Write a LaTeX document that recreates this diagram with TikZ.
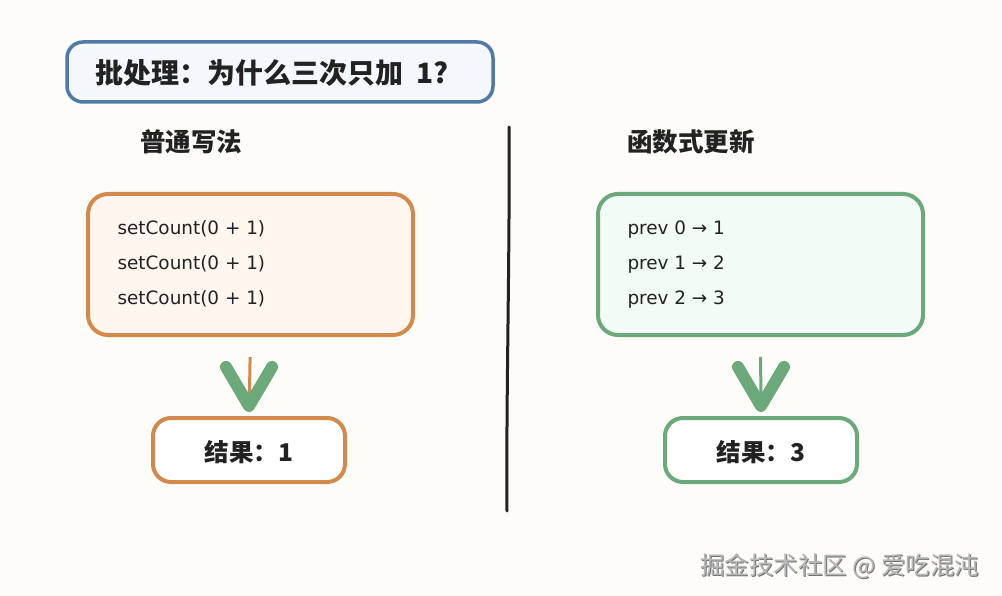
\documentclass[tikz,border=0pt]{standalone}
\usepackage{fontspec}
\setmainfont{DejaVu Sans}
\newfontfamily\cjk{Noto Sans CJK SC}
\newfontfamily\codefont{DejaVu Sans}
\usetikzlibrary{calc}
\definecolor{bg}{HTML}{FDFCF9}
\definecolor{oran}{HTML}{D18A4B}
\definecolor{grn}{HTML}{6BA97B}
\definecolor{blu}{HTML}{5079A4}
\definecolor{tfill}{HTML}{F4F8FC}
\definecolor{lfill}{HTML}{FFF6F0}
\definecolor{rfill}{HTML}{F3FBF5}
\definecolor{ink}{HTML}{222222}
\tikzset{
  box/.style={draw, line width=4pt, rounded corners=20pt, inner sep=0pt},
  codetxt/.style={anchor=base west, font=\codefont\fontsize{18.4}{18.4}\selectfont, text=ink},
  head/.style={font=\cjk\bfseries\fontsize{25.5}{25.5}\selectfont, text=ink},
  restxt/.style={font=\cjk\bfseries\fontsize{24.5}{24.5}\selectfont, text=ink},
  vhead/.style={draw=grn, line width=12pt, line cap=round, line join=round},
}
\begin{document}
\begin{tikzpicture}[x=1pt,y=-1pt]
\fill[bg] (0,0) rectangle (1002,596);
\useasboundingbox (0,0) rectangle (1002,596);

% title
\node[box, draw=blu, line width=3.5pt, fill=tfill, rounded corners=16pt, minimum width=426pt, minimum height=60pt] (title) at (280,72) {};
\node[font=\cjk\bfseries\fontsize{28}{28}\selectfont, text=ink, anchor=west] (ttext) at (92,73) {批处理：为什么三次只加\hspace{0.45em}1?};

% headings
\node[head] (hl) at (191,142) {普通写法};
\node[head] (hr) at (691,142) {函数式更新};

% divider
\coordinate (dtop) at (509,127);
\coordinate (dbot) at (507,511);
\draw[ink, line width=3pt, line cap=round] (dtop) .. controls (510,250) and (506,400) .. (dbot);

% left box
\node[box, draw=oran, fill=lfill, minimum width=325pt, minimum height=141pt] (lbox) at (250.5,264.5) {};
\node[codetxt] (l1) at (114,235) {setCount(0 + 1)};
\node[codetxt] (l2) at (114,270) {setCount(0 + 1)};
\node[codetxt] (l3) at (114,305) {setCount(0 + 1)};

% right box
\node[box, draw=grn, fill=rfill, minimum width=325pt, minimum height=141pt] (rbox) at (760.5,264.5) {};
\node[codetxt] (r1) at (624,235) {prev 0 → 1};
\node[codetxt] (r2) at (624,270) {prev 1 → 2};
\node[codetxt] (r3) at (624,305) {prev 2 → 3};

% result boxes
\node[box, draw=oran, fill=white, rounded corners=18pt, minimum width=192pt, minimum height=64pt] (lres) at (249,450) {};
\node[restxt] (lrt) at (249,452) {结果：1};
\node[box, draw=grn, fill=white, rounded corners=18pt, minimum width=192pt, minimum height=64pt] (rres) at (761,450) {};
\node[restxt] (rrt) at (761,452) {结果：3};

% connectors
\draw[oran, line width=3pt, shorten <=20pt, shorten >=8pt] (lbox.south) -- (lres.north);
\draw[vhead] ([xshift=-23pt,yshift=49pt]lres.north) -- ([yshift=10pt]lres.north) -- ([xshift=23pt,yshift=49pt]lres.north);
\draw[grn, line width=3pt, shorten <=20pt, shorten >=8pt] (rbox.south) -- (rres.north);
\draw[vhead] ([xshift=-23pt,yshift=49pt]rres.north) -- ([yshift=10pt]rres.north) -- ([xshift=23pt,yshift=49pt]rres.north);

% watermark
\node[font=\cjk\fontsize{24.5}{24.5}\selectfont, text=black!55, anchor=east] (wm0) at (983.8,566.8) {掘金技术社区 @ 爱吃混沌};
\node[font=\cjk\fontsize{24.5}{24.5}\selectfont, text=black!28, anchor=east] (wm) at (983,566) {掘金技术社区 @ 爱吃混沌};
\end{tikzpicture}
\end{document}
